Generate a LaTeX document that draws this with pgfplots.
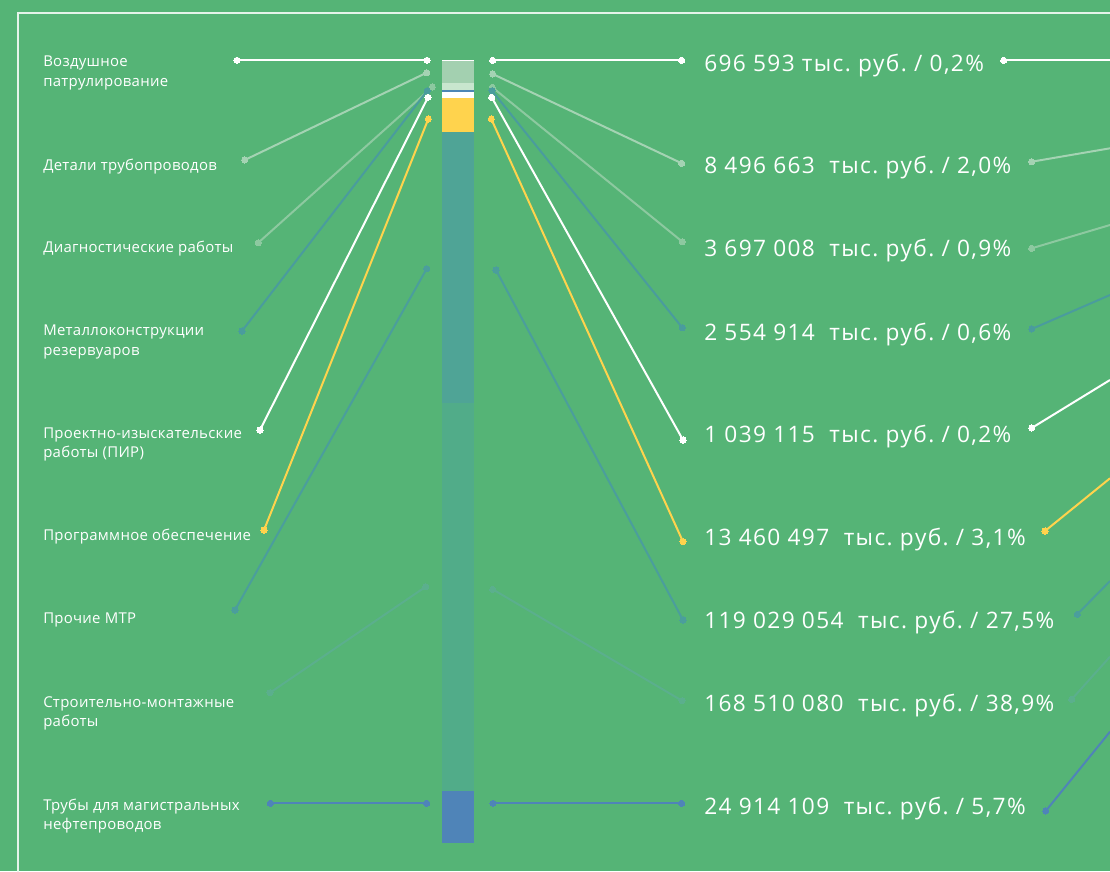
\documentclass[border=0pt]{standalone}
\usepackage{pgfplots}
\pgfplotsset{compat=1.18}
\usepackage{fontspec}
\setmainfont{Open Sans}
\newfontfamily\lftfont[LetterSpace=2]{Open Sans}
\newfontfamily\rgtfont[LetterSpace=6]{Open Sans}
\frenchspacing
\definecolor{bg}{HTML}{55B476}
\definecolor{cDet}{HTML}{A4D3B3}
\definecolor{sDet}{HTML}{A3D0B0}
\definecolor{cDiag}{HTML}{8DC9A0}
\definecolor{sDiag}{HTML}{C8E6CE}
\definecolor{cMet}{HTML}{4A9C9D}
\definecolor{sMet}{HTML}{4D86B5}
\definecolor{cYel}{HTML}{FFD34D}
\definecolor{cPro}{HTML}{4B9E9C}
\definecolor{sPro}{HTML}{4FA496}
\definecolor{cCon}{HTML}{5BAF8D}
\definecolor{sCon}{HTML}{51AC89}
\definecolor{cPipe}{HTML}{4F84B8}
\pgfplotsset{
  canvas/.style={xmin=0,xmax=1110,ymin=0,ymax=871,y dir=reverse,
    width=832.5pt,height=653.25pt,scale only axis,hide axis,enlargelimits=false},
  conn/.style={color=#1,line width=1.5pt,mark=*,mark size=2.3pt,
    mark options={fill=#1,draw=#1,line width=0pt}},
  far/.style={conn=#1,mark indices={1}},
}
\newcommand{\lft}{\lftfont\fontsize{11.2pt}{14.5pt}\selectfont}
\newcommand{\rgt}{\rgtfont\fontsize{17pt}{20pt}\selectfont}
\begin{document}
\begin{tikzpicture}
\begin{axis}[canvas, axis background/.style={fill=bg}]
% frame
\addplot[color=white!85!bg,line width=1.1pt] coordinates {(18,875)(18,13)(1115,13)};
% Воздушное патрулирование
\addplot[conn=white] coordinates {(237,60.3)(427,60.3)};
\addplot[conn=white] coordinates {(492.7,60.3)(681.7,60.3)};
\addplot[far=white] coordinates {(1003.7,60.3)(1110,60.3)};
% Детали трубопроводов
\addplot[conn=cDet] coordinates {(244.7,160)(426.7,72.7)};
\addplot[conn=cDet] coordinates {(492.7,74)(681.7,163.3)};
\addplot[far=cDet] coordinates {(1031.7,161.7)(1110,148.3)};
% Диагностические работы
\addplot[conn=cDiag] coordinates {(258.3,242.7)(432.3,87)};
\addplot[conn=cDiag] coordinates {(492.3,87.3)(682.3,241.7)};
\addplot[far=cDiag] coordinates {(1031.7,248.3)(1110,225)};
% Металлоконструкции резервуаров
\addplot[conn=cMet] coordinates {(242,331)(427.3,90.7)};
\addplot[conn=cMet] coordinates {(492,90.7)(682.3,327.7)};
\addplot[far=cMet] coordinates {(1031.7,329)(1110,295)};
% ПИР
\addplot[conn=white] coordinates {(260,430)(428,97.3)};
\addplot[conn=white] coordinates {(491.7,97.3)(683,440)};
\addplot[far=white] coordinates {(1031.7,428)(1110,380)};
% Программное обеспечение
\addplot[conn=cYel] coordinates {(264,530)(428.3,119)};
\addplot[conn=cYel] coordinates {(491.3,119)(683,541.7)};
\addplot[far=cYel] coordinates {(1045,531)(1110,478.3)};
% Прочие МТР
\addplot[conn=cPro] coordinates {(235,610)(426.7,268.7)};
\addplot[conn=cPro] coordinates {(496,270)(683,620)};
\addplot[far=cPro] coordinates {(1077.3,614.3)(1110,581)};
% Строительно-монтажные работы
\addplot[conn=cCon] coordinates {(270,692.7)(425.7,586.7)};
\addplot[conn=cCon] coordinates {(492.7,589.3)(682,700.7)};
\addplot[far=cCon] coordinates {(1071.7,699.3)(1110,656.7)};
% Трубы
\addplot[conn=cPipe] coordinates {(270.3,803.3)(426.7,803.3)};
\addplot[conn=cPipe] coordinates {(493,803.3)(681.7,803.3)};
\addplot[far=cPipe] coordinates {(1045.7,811)(1110,731.7)};
% left labels
\begin{scope}[every node/.style={text=white,anchor=base west,inner sep=0pt,font=\lft}]
\node at (axis cs:43,66.7) {Воздушное};
\node at (axis cs:43,86) {патрулирование};
\node at (axis cs:43,170) {Детали трубопроводов};
\node at (axis cs:43,252.5) {Диагностические работы};
\node at (axis cs:43,335.5) {Металлоконструкции};
\node at (axis cs:43,355) {резервуаров};
\node at (axis cs:43,438.3) {Проектно-изыскательские};
\node at (axis cs:43,457.5) {работы (ПИР)};
\node at (axis cs:43,540.7) {Программное обеспечение};
\node at (axis cs:43,623.5) {Прочие МТР};
\node at (axis cs:43,707.3) {Строительно-монтажные};
\node at (axis cs:43,726.5) {работы};
\node at (axis cs:43,810) {Трубы для магистральных};
\node at (axis cs:43,829.5) {нефтепроводов};
\end{scope}
% right labels
\begin{scope}[every node/.style={text=white,anchor=base west,inner sep=0pt,font=\rgt}]
\node at (axis cs:704,71.7) {696 593 тыс. руб. / 0,2\%};
\node at (axis cs:704,173.3) {8 496 663\ \ тыс. руб. / 2,0\%};
\node at (axis cs:704,256.7) {3 697 008\ \ тыс. руб. / 0,9\%};
\node at (axis cs:704,340.7) {2 554 914\ \ тыс. руб. / 0,6\%};
\node at (axis cs:704,442.3) {1 039 115\ \ тыс. руб. / 0,2\%};
\node at (axis cs:704,545) {13 460 497\ \ тыс. руб. / 3,1\%};
\node at (axis cs:704,628.3) {119 029 054\ \ тыс. руб. / 27,5\%};
\node at (axis cs:704,711.7) {168 510 080\ \ тыс. руб. / 38,9\%};
\node at (axis cs:704,814.3) {24 914 109\ \ тыс. руб. / 5,7\%};
\end{scope}
\end{axis}
% stacked bar: segment heights (pixels), from top
\begin{axis}[canvas, ymin=-60, ymax=811, ybar stacked, bar width=32]
\addplot[fill=white,draw=none] coordinates {(458,1)};
\addplot[fill=sDet,draw=none] coordinates {(458,22)};
\addplot[fill=sDiag,draw=none] coordinates {(458,7)};
\addplot[fill=sMet,draw=none] coordinates {(458,1.5)};
\addplot[fill=white,draw=none] coordinates {(458,6)};
\addplot[fill=cYel,draw=none] coordinates {(458,34)};
\addplot[fill=sPro,draw=none] coordinates {(458,271.5)};
\addplot[fill=sCon,draw=none] coordinates {(458,388)};
\addplot[fill=cPipe,draw=none] coordinates {(458,52)};
\end{axis}
\end{tikzpicture}
\end{document}
